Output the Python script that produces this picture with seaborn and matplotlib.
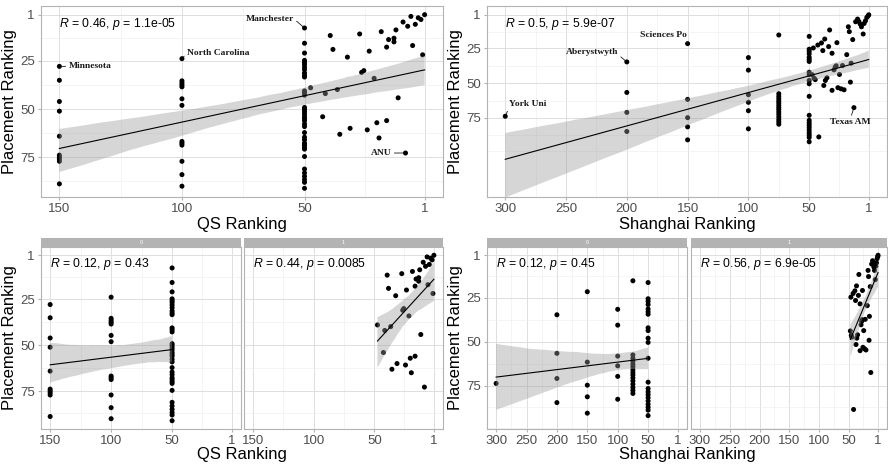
import matplotlib
matplotlib.use('Agg')
import matplotlib.pyplot as plt
import numpy as np
import pandas as pd
import seaborn as sns

# ---- QS ranking vs placement ranking ----
qs_150 = [27.8, 35.0, 46.0, 51.0, 64.0, 73.8, 74.8, 75.8, 77.0, 88.7]
qs_100 = [23.8, 35.3, 36.4, 37.4, 38.4, 44.6, 48.0, 66.7, 67.6, 68.6, 77.0, 83.9, 89.9]
qs_50 = [7.9, 15.8, 20.9, 24.7, 25.7, 26.7, 28.1, 29.5, 31.2, 32.4, 33.3, 40.5, 41.5, 42.7,
         49.1, 50.1, 51.3, 52.5, 53.9, 54.9, 55.9, 57.6, 59.0, 62.1, 64.5, 65.9, 67.6, 68.6,
         69.7, 70.7, 74.5, 81.0, 83.0, 84.8, 86.5, 87.9, 91.0]
qs_top_rank = [47.5, 41.5, 42.6, 39.5, 38.4, 36.6, 35.6, 32.5, 31.4, 27.5, 26.7, 25.8, 24.4,
               23.6, 21.6, 20.5, 19.6, 18.7, 16.5, 16.5, 15.7, 13.5, 13.5, 12.7, 11.8, 9.8,
               8.8, 7.9, 6.6, 5.9, 4.8, 3.6, 2.5, 1.8, 1.0]
qs_top_place = [38.9, 41.9, 53.9, 11.8, 19.0, 39.8, 63.0, 23.0, 59.9, 11.0, 30.9, 30.0, 60.7,
                19.9, 34.0, 57.0, 64.9, 9.8, 17.8, 55.9, 13.9, 13.2, 15.1, 8.9, 44.1, 4.8,
                72.7, 7.0, 1.9, 17.0, 6.0, 2.6, 3.5, 21.8, 1.0]

# ---- Shanghai ranking vs placement ranking ----
sh_300 = [73.8]
sh_200 = [34.8, 56.7, 71.0, 84.7]
sh_150 = [21.7, 61.7, 74.8, 81.4, 90.7]
sh_100 = [31.7, 40.7, 58.3, 63.8, 69.8, 82.8]
sh_75 = [15.5, 57.6, 59.5, 61.2, 62.9, 64.3, 66.0, 67.6, 69.0, 70.7, 72.4, 74.3, 76.2, 77.8, 79.5]
sh_50 = [16.5, 25.7, 27.2, 29.0, 31.5, 33.1, 34.5, 42.2, 43.8, 48.1, 50.5, 59.5, 73.1, 76.7,
         78.6, 80.2, 81.9, 83.8, 85.7, 87.4, 89.0, 92.1]
sh_top_rank = [46.6, 42.9, 39.9, 37.2, 38.8, 33.2, 34.0, 31.2, 27.2, 17.8, 17.0, 19.1, 14.2,
               11.8, 10.2, 9.1, 8.0, 7.0, 5.6, 4.8, 3.7, 2.6, 1.5, 1.0, 47.5, 46.0, 45.0,
               38.0, 36.7, 35.4, 31.2, 29.6, 28.6, 27.8, 25.1, 26.4, 23.8, 21.3, 22.6, 15.5,
               16.1, 13.2, 42.1]
sh_top_place = [24.8, 22.7, 21.2, 18.4, 26.7, 11.9, 23.8, 28.6, 21.0, 9.6, 13.1, 29.6, 18.8,
                6.0, 4.1, 5.8, 7.7, 9.6, 14.8, 7.2, 5.3, 2.9, 1.7, 1.0, 44.0, 46.5, 47.5,
                51.7, 48.1, 46.2, 55.2, 40.5, 38.6, 37.6, 43.8, 53.3, 54.1, 54.8, 37.4, 35.7,
                49.3, 67.6, 88.6]

# correlation labels as printed on the chart
qs_cor = 'R = 0.46, p = 1.1e-05'
qs_cor_grp = ['R = 0.12, p = 0.43', 'R = 0.44, p = 0.0085']
sh_cor = 'R = 0.5, p = 5.9e-07'
sh_cor_grp = ['R = 0.12, p = 0.45', 'R = 0.56, p = 6.9e-05']

# labelled universities: name, rank, placement
qs_named = [('Minnesota', 150, 27.8), ('North Carolina', 100, 23.8),
            ('Manchester', 50, 7.9), ('ANU', 8.8, 72.7)]
sh_named = [('York Uni', 300, 73.8), ('Aberystwyth', 200, 34.8),
            ('Sciences Po', 150, 21.7), ('Texas AM', 13.2, 67.6)]


def build(cols, top_rank, top_place):
    rank, place = [], []
    for r, vals in cols:
        rank += [r] * len(vals)
        place += vals
    rank += top_rank
    place += top_place
    df = pd.DataFrame({'rank': rank, 'place': place})
    df['grp'] = (df['rank'] < 50).astype(int)
    return df


qs = build([(150, qs_150), (100, qs_100), (50, qs_50)], qs_top_rank, qs_top_place)
sh = build([(300, sh_300), (200, sh_200), (150, sh_150), (100, sh_100), (75, sh_75), (50, sh_50)],
           sh_top_rank, sh_top_place)

plt.rcParams['font.family'] = ['Liberation Sans', 'DejaVu Sans']
plt.rcParams['mathtext.fontset'] = 'custom'
plt.rcParams['mathtext.rm'] = 'Liberation Sans'
plt.rcParams['mathtext.it'] = 'Liberation Sans:italic'

fig = plt.figure(figsize=(8.88, 4.65), dpi=100)
W, H = 888, 465


def add_ax(x0, x1, y0, y1):
    return fig.add_axes([x0 / W, 1 - y1 / H, (x1 - x0) / W, (y1 - y0) / H])


def draw(ax, df, txt, ci=95):
    sns.scatterplot(data=df, x='rank', y='place', color='black', s=13, edgecolor='none',
                    ax=ax, legend=False)
    sns.regplot(data=df, x='rank', y='place', scatter=False, ci=ci, n_boot=1000, seed=3,
                color='black', line_kws={'lw': 0.8}, ax=ax)
    band = ax.collections[-1]
    band.set_facecolor('#999999')
    band.set_alpha(0.4)
    band.set_edgecolor('none')
    r, p = txt.split(', ')
    ax.text(0.045, 0.905, '$R$' + r[1:] + ', $p$' + p[1:], transform=ax.transAxes,
            ha='left', va='center', fontsize=8.8)
    ax.set_xlabel('')
    ax.set_ylabel('')


def style(ax, xlim, ylim, xticks, xminor, yminor, left=True):
    ax.set_xlim(*xlim)
    ax.set_ylim(*ylim)
    ax.set_xticks(xticks)
    ax.set_xticklabels([str(t) for t in xticks])
    ax.set_xticks(xminor, minor=True)
    ax.set_yticks([1, 25, 50, 75])
    ax.set_yticks(yminor, minor=True)
    ax.grid(which='major', color='#dedede', lw=0.7)
    ax.grid(which='minor', color='#ececec', lw=0.4)
    ax.set_axisbelow(True)
    for s in ax.spines.values():
        s.set_color('#b3b3b3')
        s.set_linewidth(0.8)
    ax.tick_params(which='major', length=2.5, color='#b3b3b3', labelsize=9.5,
                   labelcolor='#4d4d4d', pad=2)
    ax.tick_params(which='minor', length=0)
    if not left:
        ax.tick_params(axis='y', left=False, labelleft=False)


def label_points(ax, named, offsets):
    for (name, x, y), (dx, dy, ha, rel) in zip(named, offsets):
        ax.annotate(name, xy=(x, y), xytext=(dx, dy), textcoords='offset points',
                    ha=ha, va='center', fontsize=6.8, fontweight='bold',
                    family='Liberation Serif', color='#1a1a1a',
                    arrowprops=dict(arrowstyle='-', lw=0.6, color='#1a1a1a',
                                    shrinkA=0, shrinkB=1.5, relpos=rel))


def strip(x0, x1, lab):
    s = add_ax(x0, x1, 238, 247)
    s.set_facecolor('#b3b3b3')
    s.set_xticks([])
    s.set_yticks([])
    for sp in s.spines.values():
        sp.set_visible(False)
    s.text(0.5, 0.5, lab, ha='center', va='center', color='white', fontsize=4,
           transform=s.transAxes)


qs_xt = [150, 100, 50, 1]
qs_xm = [125, 75, 25.5]
sh_xt = [300, 250, 200, 150, 100, 50, 1]
sh_xm = [275, 225, 175, 125, 75, 25.5]

# top left: QS
ax = add_ax(41, 443, 6, 197)
draw(ax, qs, qs_cor)
style(ax, (157.5, -6.5), (95.5, -3.5), qs_xt, qs_xm, [13, 37.5, 62.5, 87])
label_points(ax, qs_named, [(6.5, 0, 'left', (0, 0.5)), (3.6, 4, 'left', (0, 0.5)),
                            (-7.7, 6.6, 'right', (1, 0.5)), (-10, 0, 'right', (1, 0.5))])
ax.set_xlabel('QS Ranking', fontsize=12, labelpad=1)
ax.set_ylabel('Placement Ranking', fontsize=12, labelpad=2)

# top right: Shanghai (bootstrap band is wide at the lone 300 point, so a tighter level)
ax = add_ax(487, 887, 6, 197)
draw(ax, sh, sh_cor, ci=90)
style(ax, (315, -14), (131.7, -5.3), sh_xt, sh_xm, [13, 37.5, 62.5, 87, 99])
label_points(ax, sh_named, [(3, 8.5, 'left', (0, 0.2)), (-6.3, 7, 'right', (1, 0.2)),
                            (-0.8, 6.3, 'right', (1, 0.2)), (-2.4, -10.4, 'center', (0.5, 1))])
ax.set_xlabel('Shanghai Ranking', fontsize=12, labelpad=1)
ax.set_ylabel('Placement Ranking', fontsize=12, labelpad=2)

# bottom: faceted by top-50 group
facets = [(qs, qs_cor_grp, [(41, 241), (244, 443)], (157.5, -6.5), (95.5, -3.5), qs_xt, qs_xm,
           [13, 37.5, 62.5, 87], 'QS Ranking', 95),
          (sh, sh_cor_grp, [(487, 687), (691, 887)], (315, -14), (99.7, -3.7), sh_xt, sh_xm,
           [13, 37.5, 62.5, 87, 99], 'Shanghai Ranking', 90)]
for df, cors, boxes, xl, yl, xt, xm, ym, title, ci in facets:
    for g, (x0, x1) in enumerate(boxes):
        ax = add_ax(x0, x1, 247, 429)
        draw(ax, df[df['grp'] == g], cors[g], ci=ci)
        style(ax, xl, yl, xt, xm, ym, left=(g == 0))
        strip(x0, x1, str(g))
        if g == 0:
            ax.set_ylabel('Placement Ranking', fontsize=12, labelpad=2)
    fig.text((boxes[0][0] + boxes[1][1]) / 2 / W, 1 - 454 / H, title, ha='center',
             va='center', fontsize=12)

fig.savefig('out.png', dpi=100)
